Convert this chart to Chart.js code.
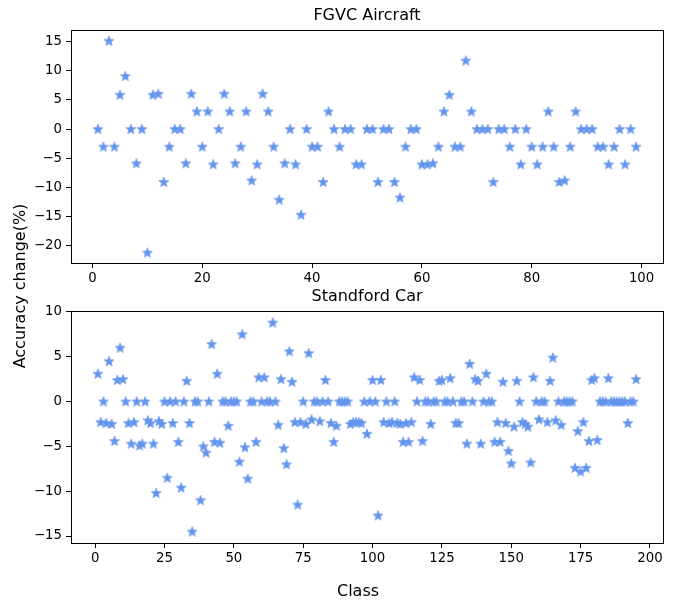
<!DOCTYPE html>
<html>
<head>
<meta charset="utf-8">
<script src="https://cdn.jsdelivr.net/npm/chart.js@4.4.0/dist/chart.umd.min.js"></script>
<style>
  body { margin: 0; background: #fff; width: 683px; height: 601px; position: relative; overflow: hidden; font-family: "DejaVu Sans", sans-serif; }
  #topChart { position: absolute; left: 0; top: 0; }
  #bottomChart { position: absolute; left: 0; top: 280px; }
  #ylabel { position: absolute; left: -130px; top: 277px; width: 300px; text-align: center; font-size: 16px; line-height: 18px; transform: rotate(-90deg); }
  #xlabel { position: absolute; left: 258px; top: 582px; width: 200px; text-align: center; font-size: 16px; line-height: 18px; }
</style>
</head>
<body>
<canvas id="topChart" width="683" height="300"></canvas>
<canvas id="bottomChart" width="683" height="321"></canvas>
<div id="ylabel">Accuracy change(%)</div>
<div id="xlabel">Class</div>
<script>
// accuracy change per class (%)
const fgvcValues = [
  0, -3.03, 15.15, -3.03, 5.88, 9.09, 0, -5.88, 0, -21.21,
  5.88, 6.06, -9.09, -3.03, 0, 0, -5.88, 6.06, 3.03, -3.03,
  3.03, -6.06, 0, 6.06, 3.03, -5.88, -3.03, 3.03, -8.82, -6.06,
  6.06, 3.03, -3.03, -12.12, -5.88, 0, -6.06, -14.71, 0, -3.03,
  -3.03, -9.09, 3.03, 0, -3.03, 0, 0, -6.06, -6.06, 0,
  0, -9.09, 0, 0, -9.09, -11.76, -3.03, 0, 0, -6.06,
  -6.06, -5.88, -3.03, 3.03, 5.88, -3.03, -3.03, 11.76, 3.03, 0,
  0, 0, -9.09, 0, 0, -3.03, 0, -6.06, 0, -3.03,
  -6.06, -3.03, 3.03, -3.03, -9.09, -8.82, -3.03, 3.03, 0, 0,
  0, -3.03, -3.03, -6.06, -3.03, 0, -6.06, 0, -3.03
];

const carValues = [
  3.1, -2.3, 0, -2.4, 4.5, -2.5, -4.4, 2.4, 6.0, 2.5,
  0, -2.4, -4.7, -2.3, 0, -4.9, -4.7, 0, -2.1, -2.4,
  -4.7, -10.2, -2.2, -2.5, 0, -8.5, 0, -2.4, 0, -4.5,
  -9.6, 0, 2.3, -2.4, -14.5, 0, 0, -11.0, -5.0, -5.7,
  0, 6.4, -4.5, 3.1, -4.6, 0, 0, -2.7, 0, 0,
  0, -6.7, 7.5, -5.1, -8.6, 0, 0, -4.5, 2.7, 0,
  2.7, 0, 0, 8.8, 0, -2.6, 2.5, -5.2, -7.0, 5.6,
  2.2, -2.3, -11.5, -2.3, 0, -2.5, 5.4, -2.0, 0, 0,
  -2.2, 0, 2.4, 0, -2.4, -4.5, -2.7, 0, 0, 0,
  0, -2.5, -2.3, -2.3, -2.3, -2.4, 0, -3.6, 0, 2.4,
  0, -12.7, 2.4, -2.3, 0, -2.4, -2.3, 0, -2.4, -2.5,
  -4.5, -2.4, -4.5, -2.3, 2.7, 0, 2.4, -4.4, 0, 0,
  -2.5, 0, 0, 2.3, 2.4, 0, 0, 2.6, 0, -2.4,
  -2.4, 0, 0, -4.7, 4.2, 0, 2.5, 2.3, -4.7, 0,
  3.1, 0, 0, -4.5, -2.3, -4.5, 2.2, -2.4, -5.5, -6.9,
  -2.8, 2.3, 0, -2.3, -2.5, -2.8, -6.8, 2.7, 0, -2.0,
  0, 0, -2.3, 2.3, 4.9, -2.1, 0, -2.6, 0, 0,
  0, 0, -7.4, -3.3, -7.8, -2.3, -7.4, -4.4, 2.4, 2.6,
  -4.3, 0, 0, 0, 2.6, 0, 0, 0, 0, 0,
  0, -2.4, 0, 0, 2.5
];

// tick labels
const fgvcXTicks = [0, 20, 40, 60, 80, 100];
const fgvcYTicks = [-20, -15, -10, -5, 0, 5, 10, 15];
const carXTicks = [0, 25, 50, 75, 100, 125, 150, 175, 200];
const carYTicks = [-15, -10, -5, 0, 5, 10];

const starColor = '#6495ED';

// filled five point star like matplotlib's '*'
function makeStar() {
  const c = document.createElement('canvas');
  c.width = 12; c.height = 12;
  const g = c.getContext('2d');
  const R = 5.3, r = R * 0.42;
  g.beginPath();
  for (let i = 0; i < 10; i++) {
    const rad = i % 2 === 0 ? R : r;
    const a = -Math.PI / 2 + i * Math.PI / 5;
    const px = 6 + rad * Math.cos(a), py = 6.4 + rad * Math.sin(a);
    if (i === 0) g.moveTo(px, py); else g.lineTo(px, py);
  }
  g.closePath();
  g.fillStyle = starColor;
  g.fill();
  g.strokeStyle = starColor;
  g.lineWidth = 0.6;
  g.stroke();
  return c;
}
const star = makeStar();

// top and right spines
const boxPlugin = {
  id: 'box',
  afterDraw(chart) {
    const a = chart.chartArea, ctx = chart.ctx;
    ctx.save();
    ctx.strokeStyle = '#000';
    ctx.lineWidth = 1;
    ctx.strokeRect(Math.round(a.left) + 0.5, Math.round(a.top) + 0.5, Math.round(a.right - a.left), Math.round(a.bottom - a.top));
    ctx.restore();
  }
};

const minus = v => String(v).replace('-', '\u2212');

function makeChart(id, title, values, xr, yr, xTicks, yTicks, titlePad, xHeight) {
  const points = values.map((v, i) => ({ x: i + 1, y: v }));
  return new Chart(document.getElementById(id), {
    type: 'scatter',
    data: { datasets: [{ data: points, pointStyle: star, pointRadius: 5, backgroundColor: starColor, borderColor: starColor }] },
    plugins: [boxPlugin],
    options: {
      responsive: false,
      animation: false,
      layout: { padding: { left: 0, right: 20, top: 0, bottom: 0 } },
      plugins: {
        legend: { display: false },
        tooltip: { enabled: false },
        title: { display: true, fullSize: false, text: title, color: '#000', font: { family: 'DejaVu Sans', size: 16, weight: 'normal' }, padding: titlePad }
      },
      scales: {
        x: {
          type: 'linear', min: xr[0], max: xr[1],
          afterBuildTicks: s => { s.ticks = xTicks.map(v => ({ value: v })); },
          afterFit: s => { s.height = xHeight; },
          ticks: { color: '#000', font: { family: 'DejaVu Sans', size: 13.3 }, padding: 3, maxRotation: 0, callback: minus },
          grid: { drawOnChartArea: false, drawTicks: true, tickLength: 5, color: '#000' },
          border: { display: true, color: '#000' }
        },
        y: {
          type: 'linear', min: yr[0], max: yr[1],
          afterBuildTicks: s => { s.ticks = yTicks.map(v => ({ value: v })); },
          afterFit: s => { s.width = 71; },
          ticks: { color: '#000', font: { family: 'DejaVu Sans', size: 13.3 }, padding: 4, callback: minus },
          grid: { drawOnChartArea: false, drawTicks: true, tickLength: 5, color: '#000' },
          border: { display: true, color: '#000' }
        }
      }
    }
  });
}

makeChart('topChart', 'FGVC Aircraft', fgvcValues, [-3.9, 103.9], [-23.0, 16.97],
  fgvcXTicks, fgvcYTicks, { top: 6, bottom: 5 }, 37);
makeChart('bottomChart', 'Standford Car', carValues, [-8.7, 204.7], [-15.78, 10.07],
  carXTicks, carYTicks, { top: 7, bottom: 5 }, 58);
</script>
</body>
</html>
